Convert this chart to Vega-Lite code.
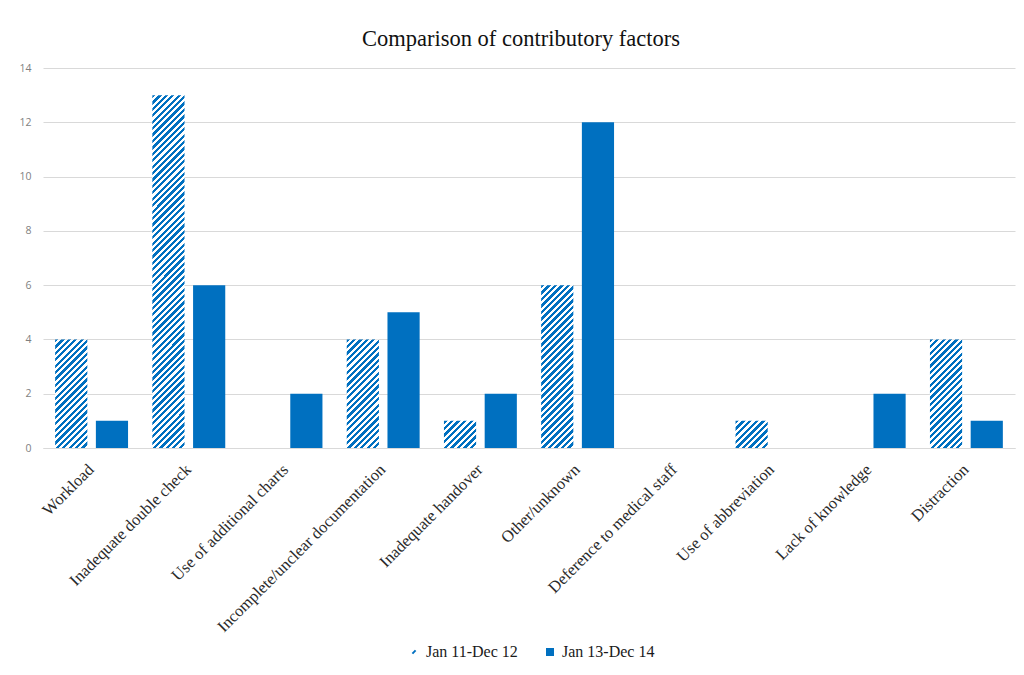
{
  "$schema": "https://vega.github.io/schema/vega-lite/v6.json",
  "autosize": "none",
  "width": 972,
  "height": 380,
  "padding": {"left": 43, "top": 68, "right": 9, "bottom": 227},
  "background": "#ffffff",
  "title": {
    "text": "Comparison of contributory factors",
    "font": "Liberation Serif",
    "fontSize": 22.5,
    "fontWeight": "normal",
    "color": "#111111",
    "anchor": "middle",
    "dx": -8,
    "offset": 13
  },
  "data": {
    "values": [
      {"factor": "Workload", "period": "Jan 11-Dec 12", "count": 4},
      {"factor": "Workload", "period": "Jan 13-Dec 14", "count": 1},
      {"factor": "Inadequate double check", "period": "Jan 11-Dec 12", "count": 13},
      {"factor": "Inadequate double check", "period": "Jan 13-Dec 14", "count": 6},
      {"factor": "Use of additional charts", "period": "Jan 11-Dec 12", "count": 0},
      {"factor": "Use of additional charts", "period": "Jan 13-Dec 14", "count": 2},
      {"factor": "Incomplete/unclear documentation", "period": "Jan 11-Dec 12", "count": 4},
      {"factor": "Incomplete/unclear documentation", "period": "Jan 13-Dec 14", "count": 5},
      {"factor": "Inadequate handover", "period": "Jan 11-Dec 12", "count": 1},
      {"factor": "Inadequate handover", "period": "Jan 13-Dec 14", "count": 2},
      {"factor": "Other/unknown", "period": "Jan 11-Dec 12", "count": 6},
      {"factor": "Other/unknown", "period": "Jan 13-Dec 14", "count": 12},
      {"factor": "Deference to medical staff", "period": "Jan 11-Dec 12", "count": 0},
      {"factor": "Deference to medical staff", "period": "Jan 13-Dec 14", "count": 0},
      {"factor": "Use of abbreviation", "period": "Jan 11-Dec 12", "count": 1},
      {"factor": "Use of abbreviation", "period": "Jan 13-Dec 14", "count": 0},
      {"factor": "Lack of knowledge", "period": "Jan 11-Dec 12", "count": 0},
      {"factor": "Lack of knowledge", "period": "Jan 13-Dec 14", "count": 2},
      {"factor": "Distraction", "period": "Jan 11-Dec 12", "count": 4},
      {"factor": "Distraction", "period": "Jan 13-Dec 14", "count": 1}
    ]
  },
  "mark": {"type": "bar", "strokeWidth": 0},
  "encoding": {
    "x": {
      "field": "factor",
      "type": "nominal",
      "sort": null,
      "scale": {"paddingInner": 0.25, "paddingOuter": 0.125},
      "axis": {
        "title": null,
        "labelAngle": -45,
        "labelFont": "Liberation Serif",
        "labelFontSize": 16.5,
        "labelColor": "#2a2a2a",
        "labelPadding": 13,
        "labelOffset": -6,
        "ticks": false,
        "domainColor": "#d9d9d9",
        "labelLimit": 400
      }
    },
    "xOffset": {
      "field": "period",
      "type": "nominal",
      "scale": {"paddingInner": 0.21, "paddingOuter": 0}
    },
    "y": {
      "field": "count",
      "type": "quantitative",
      "scale": {"domain": [0, 14], "nice": false},
      "axis": {
        "title": null,
        "values": [0, 2, 4, 6, 8, 10, 12, 14],
        "grid": true,
        "gridColor": "#d9d9d9",
        "domain": false,
        "ticks": false,
        "labelFont": "Open Sans",
        "labelFontSize": 10.5,
        "labelColor": "#7f7f7f",
        "labelPadding": 12
      }
    },
    "fill": {
      "field": "period",
      "type": "nominal",
      "scale": {"domain": ["Jan 11-Dec 12", "Jan 13-Dec 14"], "range": ["#0070C0", "#0070C0"]},
      "legend": {
        "title": null,
        "orient": "none",
        "legendX": 363,
        "legendY": 576,
        "direction": "horizontal",
        "labelFont": "Liberation Serif",
        "labelFontSize": 16,
        "labelColor": "#1a1a1a",
        "symbolSize": 64,
        "columnPadding": 24,
        "encode": {
          "symbols": {
            "update": {
              "shape": [
                {"test": "datum.value === 'Jan 11-Dec 12'", "value": "M-0.4,0.4L0.4,-0.4"},
                {"value": "square"}
              ],
              "stroke": [
                {"test": "datum.value === 'Jan 11-Dec 12'", "value": "#0070C0"},
                {"value": "transparent"}
              ],
              "strokeWidth": {"value": 2},
              "fill": [
                {"test": "datum.value === 'Jan 11-Dec 12'", "value": "transparent"},
                {"value": "#0070C0"}
              ]
            }
          }
        }
      },
      "condition": [
        {
          "test": "datum.period === 'Jan 11-Dec 12' && datum.count === 1",
          "value": {
            "gradient": "linear", "x1": 0, "y1": 0, "x2": 1.077, "y2": 0.908,
            "stops": [
              {"offset": 0, "color": "#0070C0"}, {"offset": 0.05556, "color": "#0070C0"},
              {"offset": 0.05556, "color": "#FFFFFF"}, {"offset": 0.11111, "color": "#FFFFFF"},
              {"offset": 0.11111, "color": "#0070C0"}, {"offset": 0.16667, "color": "#0070C0"},
              {"offset": 0.16667, "color": "#FFFFFF"}, {"offset": 0.22222, "color": "#FFFFFF"},
              {"offset": 0.22222, "color": "#0070C0"}, {"offset": 0.27778, "color": "#0070C0"},
              {"offset": 0.27778, "color": "#FFFFFF"}, {"offset": 0.33333, "color": "#FFFFFF"},
              {"offset": 0.33333, "color": "#0070C0"}, {"offset": 0.38889, "color": "#0070C0"},
              {"offset": 0.38889, "color": "#FFFFFF"}, {"offset": 0.44444, "color": "#FFFFFF"},
              {"offset": 0.44444, "color": "#0070C0"}, {"offset": 0.5, "color": "#0070C0"},
              {"offset": 0.5, "color": "#FFFFFF"}, {"offset": 0.55556, "color": "#FFFFFF"},
              {"offset": 0.55556, "color": "#0070C0"}, {"offset": 0.61111, "color": "#0070C0"},
              {"offset": 0.61111, "color": "#FFFFFF"}, {"offset": 0.66667, "color": "#FFFFFF"},
              {"offset": 0.66667, "color": "#0070C0"}, {"offset": 0.72222, "color": "#0070C0"},
              {"offset": 0.72222, "color": "#FFFFFF"}, {"offset": 0.77778, "color": "#FFFFFF"},
              {"offset": 0.77778, "color": "#0070C0"}, {"offset": 0.83333, "color": "#0070C0"},
              {"offset": 0.83333, "color": "#FFFFFF"}, {"offset": 0.88889, "color": "#FFFFFF"},
              {"offset": 0.88889, "color": "#0070C0"}, {"offset": 0.94444, "color": "#0070C0"},
              {"offset": 0.94444, "color": "#FFFFFF"}, {"offset": 1, "color": "#FFFFFF"}
            ]
          }
        },
        {
          "test": "datum.period === 'Jan 11-Dec 12' && datum.count === 4",
          "value": {
            "gradient": "linear", "x1": 0, "y1": 0, "x2": 0.3535, "y2": 1.1917,
            "stops": [
              {"offset": 0, "color": "#0070C0"}, {"offset": 0.02273, "color": "#0070C0"},
              {"offset": 0.02273, "color": "#FFFFFF"}, {"offset": 0.04545, "color": "#FFFFFF"},
              {"offset": 0.04545, "color": "#0070C0"}, {"offset": 0.06818, "color": "#0070C0"},
              {"offset": 0.06818, "color": "#FFFFFF"}, {"offset": 0.09091, "color": "#FFFFFF"},
              {"offset": 0.09091, "color": "#0070C0"}, {"offset": 0.11364, "color": "#0070C0"},
              {"offset": 0.11364, "color": "#FFFFFF"}, {"offset": 0.13636, "color": "#FFFFFF"},
              {"offset": 0.13636, "color": "#0070C0"}, {"offset": 0.15909, "color": "#0070C0"},
              {"offset": 0.15909, "color": "#FFFFFF"}, {"offset": 0.18182, "color": "#FFFFFF"},
              {"offset": 0.18182, "color": "#0070C0"}, {"offset": 0.20455, "color": "#0070C0"},
              {"offset": 0.20455, "color": "#FFFFFF"}, {"offset": 0.22727, "color": "#FFFFFF"},
              {"offset": 0.22727, "color": "#0070C0"}, {"offset": 0.25, "color": "#0070C0"},
              {"offset": 0.25, "color": "#FFFFFF"}, {"offset": 0.27273, "color": "#FFFFFF"},
              {"offset": 0.27273, "color": "#0070C0"}, {"offset": 0.29545, "color": "#0070C0"},
              {"offset": 0.29545, "color": "#FFFFFF"}, {"offset": 0.31818, "color": "#FFFFFF"},
              {"offset": 0.31818, "color": "#0070C0"}, {"offset": 0.34091, "color": "#0070C0"},
              {"offset": 0.34091, "color": "#FFFFFF"}, {"offset": 0.36364, "color": "#FFFFFF"},
              {"offset": 0.36364, "color": "#0070C0"}, {"offset": 0.38636, "color": "#0070C0"},
              {"offset": 0.38636, "color": "#FFFFFF"}, {"offset": 0.40909, "color": "#FFFFFF"},
              {"offset": 0.40909, "color": "#0070C0"}, {"offset": 0.43182, "color": "#0070C0"},
              {"offset": 0.43182, "color": "#FFFFFF"}, {"offset": 0.45455, "color": "#FFFFFF"},
              {"offset": 0.45455, "color": "#0070C0"}, {"offset": 0.47727, "color": "#0070C0"},
              {"offset": 0.47727, "color": "#FFFFFF"}, {"offset": 0.5, "color": "#FFFFFF"},
              {"offset": 0.5, "color": "#0070C0"}, {"offset": 0.52273, "color": "#0070C0"},
              {"offset": 0.52273, "color": "#FFFFFF"}, {"offset": 0.54545, "color": "#FFFFFF"},
              {"offset": 0.54545, "color": "#0070C0"}, {"offset": 0.56818, "color": "#0070C0"},
              {"offset": 0.56818, "color": "#FFFFFF"}, {"offset": 0.59091, "color": "#FFFFFF"},
              {"offset": 0.59091, "color": "#0070C0"}, {"offset": 0.61364, "color": "#0070C0"},
              {"offset": 0.61364, "color": "#FFFFFF"}, {"offset": 0.63636, "color": "#FFFFFF"},
              {"offset": 0.63636, "color": "#0070C0"}, {"offset": 0.65909, "color": "#0070C0"},
              {"offset": 0.65909, "color": "#FFFFFF"}, {"offset": 0.68182, "color": "#FFFFFF"},
              {"offset": 0.68182, "color": "#0070C0"}, {"offset": 0.70455, "color": "#0070C0"},
              {"offset": 0.70455, "color": "#FFFFFF"}, {"offset": 0.72727, "color": "#FFFFFF"},
              {"offset": 0.72727, "color": "#0070C0"}, {"offset": 0.75, "color": "#0070C0"},
              {"offset": 0.75, "color": "#FFFFFF"}, {"offset": 0.77273, "color": "#FFFFFF"},
              {"offset": 0.77273, "color": "#0070C0"}, {"offset": 0.79545, "color": "#0070C0"},
              {"offset": 0.79545, "color": "#FFFFFF"}, {"offset": 0.81818, "color": "#FFFFFF"},
              {"offset": 0.81818, "color": "#0070C0"}, {"offset": 0.84091, "color": "#0070C0"},
              {"offset": 0.84091, "color": "#FFFFFF"}, {"offset": 0.86364, "color": "#FFFFFF"},
              {"offset": 0.86364, "color": "#0070C0"}, {"offset": 0.88636, "color": "#0070C0"},
              {"offset": 0.88636, "color": "#FFFFFF"}, {"offset": 0.90909, "color": "#FFFFFF"},
              {"offset": 0.90909, "color": "#0070C0"}, {"offset": 0.93182, "color": "#0070C0"},
              {"offset": 0.93182, "color": "#FFFFFF"}, {"offset": 0.95455, "color": "#FFFFFF"},
              {"offset": 0.95455, "color": "#0070C0"}, {"offset": 0.97727, "color": "#0070C0"},
              {"offset": 0.97727, "color": "#FFFFFF"}, {"offset": 1, "color": "#FFFFFF"}
            ]
          }
        },
        {
          "test": "datum.period === 'Jan 11-Dec 12' && datum.count === 6",
          "value": {
            "gradient": "linear", "x1": 0, "y1": 0, "x2": 0.2279, "y2": 1.1526,
            "stops": [
              {"offset": 0, "color": "#0070C0"}, {"offset": 0.01667, "color": "#0070C0"},
              {"offset": 0.01667, "color": "#FFFFFF"}, {"offset": 0.03333, "color": "#FFFFFF"},
              {"offset": 0.03333, "color": "#0070C0"}, {"offset": 0.05, "color": "#0070C0"},
              {"offset": 0.05, "color": "#FFFFFF"}, {"offset": 0.06667, "color": "#FFFFFF"},
              {"offset": 0.06667, "color": "#0070C0"}, {"offset": 0.08333, "color": "#0070C0"},
              {"offset": 0.08333, "color": "#FFFFFF"}, {"offset": 0.1, "color": "#FFFFFF"},
              {"offset": 0.1, "color": "#0070C0"}, {"offset": 0.11667, "color": "#0070C0"},
              {"offset": 0.11667, "color": "#FFFFFF"}, {"offset": 0.13333, "color": "#FFFFFF"},
              {"offset": 0.13333, "color": "#0070C0"}, {"offset": 0.15, "color": "#0070C0"},
              {"offset": 0.15, "color": "#FFFFFF"}, {"offset": 0.16667, "color": "#FFFFFF"},
              {"offset": 0.16667, "color": "#0070C0"}, {"offset": 0.18333, "color": "#0070C0"},
              {"offset": 0.18333, "color": "#FFFFFF"}, {"offset": 0.2, "color": "#FFFFFF"},
              {"offset": 0.2, "color": "#0070C0"}, {"offset": 0.21667, "color": "#0070C0"},
              {"offset": 0.21667, "color": "#FFFFFF"}, {"offset": 0.23333, "color": "#FFFFFF"},
              {"offset": 0.23333, "color": "#0070C0"}, {"offset": 0.25, "color": "#0070C0"},
              {"offset": 0.25, "color": "#FFFFFF"}, {"offset": 0.26667, "color": "#FFFFFF"},
              {"offset": 0.26667, "color": "#0070C0"}, {"offset": 0.28333, "color": "#0070C0"},
              {"offset": 0.28333, "color": "#FFFFFF"}, {"offset": 0.3, "color": "#FFFFFF"},
              {"offset": 0.3, "color": "#0070C0"}, {"offset": 0.31667, "color": "#0070C0"},
              {"offset": 0.31667, "color": "#FFFFFF"}, {"offset": 0.33333, "color": "#FFFFFF"},
              {"offset": 0.33333, "color": "#0070C0"}, {"offset": 0.35, "color": "#0070C0"},
              {"offset": 0.35, "color": "#FFFFFF"}, {"offset": 0.36667, "color": "#FFFFFF"},
              {"offset": 0.36667, "color": "#0070C0"}, {"offset": 0.38333, "color": "#0070C0"},
              {"offset": 0.38333, "color": "#FFFFFF"}, {"offset": 0.4, "color": "#FFFFFF"},
              {"offset": 0.4, "color": "#0070C0"}, {"offset": 0.41667, "color": "#0070C0"},
              {"offset": 0.41667, "color": "#FFFFFF"}, {"offset": 0.43333, "color": "#FFFFFF"},
              {"offset": 0.43333, "color": "#0070C0"}, {"offset": 0.45, "color": "#0070C0"},
              {"offset": 0.45, "color": "#FFFFFF"}, {"offset": 0.46667, "color": "#FFFFFF"},
              {"offset": 0.46667, "color": "#0070C0"}, {"offset": 0.48333, "color": "#0070C0"},
              {"offset": 0.48333, "color": "#FFFFFF"}, {"offset": 0.5, "color": "#FFFFFF"},
              {"offset": 0.5, "color": "#0070C0"}, {"offset": 0.51667, "color": "#0070C0"},
              {"offset": 0.51667, "color": "#FFFFFF"}, {"offset": 0.53333, "color": "#FFFFFF"},
              {"offset": 0.53333, "color": "#0070C0"}, {"offset": 0.55, "color": "#0070C0"},
              {"offset": 0.55, "color": "#FFFFFF"}, {"offset": 0.56667, "color": "#FFFFFF"},
              {"offset": 0.56667, "color": "#0070C0"}, {"offset": 0.58333, "color": "#0070C0"},
              {"offset": 0.58333, "color": "#FFFFFF"}, {"offset": 0.6, "color": "#FFFFFF"},
              {"offset": 0.6, "color": "#0070C0"}, {"offset": 0.61667, "color": "#0070C0"},
              {"offset": 0.61667, "color": "#FFFFFF"}, {"offset": 0.63333, "color": "#FFFFFF"},
              {"offset": 0.63333, "color": "#0070C0"}, {"offset": 0.65, "color": "#0070C0"},
              {"offset": 0.65, "color": "#FFFFFF"}, {"offset": 0.66667, "color": "#FFFFFF"},
              {"offset": 0.66667, "color": "#0070C0"}, {"offset": 0.68333, "color": "#0070C0"},
              {"offset": 0.68333, "color": "#FFFFFF"}, {"offset": 0.7, "color": "#FFFFFF"},
              {"offset": 0.7, "color": "#0070C0"}, {"offset": 0.71667, "color": "#0070C0"},
              {"offset": 0.71667, "color": "#FFFFFF"}, {"offset": 0.73333, "color": "#FFFFFF"},
              {"offset": 0.73333, "color": "#0070C0"}, {"offset": 0.75, "color": "#0070C0"},
              {"offset": 0.75, "color": "#FFFFFF"}, {"offset": 0.76667, "color": "#FFFFFF"},
              {"offset": 0.76667, "color": "#0070C0"}, {"offset": 0.78333, "color": "#0070C0"},
              {"offset": 0.78333, "color": "#FFFFFF"}, {"offset": 0.8, "color": "#FFFFFF"},
              {"offset": 0.8, "color": "#0070C0"}, {"offset": 0.81667, "color": "#0070C0"},
              {"offset": 0.81667, "color": "#FFFFFF"}, {"offset": 0.83333, "color": "#FFFFFF"},
              {"offset": 0.83333, "color": "#0070C0"}, {"offset": 0.85, "color": "#0070C0"},
              {"offset": 0.85, "color": "#FFFFFF"}, {"offset": 0.86667, "color": "#FFFFFF"},
              {"offset": 0.86667, "color": "#0070C0"}, {"offset": 0.88333, "color": "#0070C0"},
              {"offset": 0.88333, "color": "#FFFFFF"}, {"offset": 0.9, "color": "#FFFFFF"},
              {"offset": 0.9, "color": "#0070C0"}, {"offset": 0.91667, "color": "#0070C0"},
              {"offset": 0.91667, "color": "#FFFFFF"}, {"offset": 0.93333, "color": "#FFFFFF"},
              {"offset": 0.93333, "color": "#0070C0"}, {"offset": 0.95, "color": "#0070C0"},
              {"offset": 0.95, "color": "#FFFFFF"}, {"offset": 0.96667, "color": "#FFFFFF"},
              {"offset": 0.96667, "color": "#0070C0"}, {"offset": 0.98333, "color": "#0070C0"},
              {"offset": 0.98333, "color": "#FFFFFF"}, {"offset": 1, "color": "#FFFFFF"}
            ]
          }
        },
        {
          "test": "datum.period === 'Jan 11-Dec 12' && datum.count === 13",
          "value": {
            "gradient": "linear", "x1": 0, "y1": 0, "x2": 0.0988, "y2": 1.0822,
            "stops": [
              {"offset": 0, "color": "#0070C0"}, {"offset": 0.00833, "color": "#0070C0"},
              {"offset": 0.00833, "color": "#FFFFFF"}, {"offset": 0.01667, "color": "#FFFFFF"},
              {"offset": 0.01667, "color": "#0070C0"}, {"offset": 0.025, "color": "#0070C0"},
              {"offset": 0.025, "color": "#FFFFFF"}, {"offset": 0.03333, "color": "#FFFFFF"},
              {"offset": 0.03333, "color": "#0070C0"}, {"offset": 0.04167, "color": "#0070C0"},
              {"offset": 0.04167, "color": "#FFFFFF"}, {"offset": 0.05, "color": "#FFFFFF"},
              {"offset": 0.05, "color": "#0070C0"}, {"offset": 0.05833, "color": "#0070C0"},
              {"offset": 0.05833, "color": "#FFFFFF"}, {"offset": 0.06667, "color": "#FFFFFF"},
              {"offset": 0.06667, "color": "#0070C0"}, {"offset": 0.075, "color": "#0070C0"},
              {"offset": 0.075, "color": "#FFFFFF"}, {"offset": 0.08333, "color": "#FFFFFF"},
              {"offset": 0.08333, "color": "#0070C0"}, {"offset": 0.09167, "color": "#0070C0"},
              {"offset": 0.09167, "color": "#FFFFFF"}, {"offset": 0.1, "color": "#FFFFFF"},
              {"offset": 0.1, "color": "#0070C0"}, {"offset": 0.10833, "color": "#0070C0"},
              {"offset": 0.10833, "color": "#FFFFFF"}, {"offset": 0.11667, "color": "#FFFFFF"},
              {"offset": 0.11667, "color": "#0070C0"}, {"offset": 0.125, "color": "#0070C0"},
              {"offset": 0.125, "color": "#FFFFFF"}, {"offset": 0.13333, "color": "#FFFFFF"},
              {"offset": 0.13333, "color": "#0070C0"}, {"offset": 0.14167, "color": "#0070C0"},
              {"offset": 0.14167, "color": "#FFFFFF"}, {"offset": 0.15, "color": "#FFFFFF"},
              {"offset": 0.15, "color": "#0070C0"}, {"offset": 0.15833, "color": "#0070C0"},
              {"offset": 0.15833, "color": "#FFFFFF"}, {"offset": 0.16667, "color": "#FFFFFF"},
              {"offset": 0.16667, "color": "#0070C0"}, {"offset": 0.175, "color": "#0070C0"},
              {"offset": 0.175, "color": "#FFFFFF"}, {"offset": 0.18333, "color": "#FFFFFF"},
              {"offset": 0.18333, "color": "#0070C0"}, {"offset": 0.19167, "color": "#0070C0"},
              {"offset": 0.19167, "color": "#FFFFFF"}, {"offset": 0.2, "color": "#FFFFFF"},
              {"offset": 0.2, "color": "#0070C0"}, {"offset": 0.20833, "color": "#0070C0"},
              {"offset": 0.20833, "color": "#FFFFFF"}, {"offset": 0.21667, "color": "#FFFFFF"},
              {"offset": 0.21667, "color": "#0070C0"}, {"offset": 0.225, "color": "#0070C0"},
              {"offset": 0.225, "color": "#FFFFFF"}, {"offset": 0.23333, "color": "#FFFFFF"},
              {"offset": 0.23333, "color": "#0070C0"}, {"offset": 0.24167, "color": "#0070C0"},
              {"offset": 0.24167, "color": "#FFFFFF"}, {"offset": 0.25, "color": "#FFFFFF"},
              {"offset": 0.25, "color": "#0070C0"}, {"offset": 0.25833, "color": "#0070C0"},
              {"offset": 0.25833, "color": "#FFFFFF"}, {"offset": 0.26667, "color": "#FFFFFF"},
              {"offset": 0.26667, "color": "#0070C0"}, {"offset": 0.275, "color": "#0070C0"},
              {"offset": 0.275, "color": "#FFFFFF"}, {"offset": 0.28333, "color": "#FFFFFF"},
              {"offset": 0.28333, "color": "#0070C0"}, {"offset": 0.29167, "color": "#0070C0"},
              {"offset": 0.29167, "color": "#FFFFFF"}, {"offset": 0.3, "color": "#FFFFFF"},
              {"offset": 0.3, "color": "#0070C0"}, {"offset": 0.30833, "color": "#0070C0"},
              {"offset": 0.30833, "color": "#FFFFFF"}, {"offset": 0.31667, "color": "#FFFFFF"},
              {"offset": 0.31667, "color": "#0070C0"}, {"offset": 0.325, "color": "#0070C0"},
              {"offset": 0.325, "color": "#FFFFFF"}, {"offset": 0.33333, "color": "#FFFFFF"},
              {"offset": 0.33333, "color": "#0070C0"}, {"offset": 0.34167, "color": "#0070C0"},
              {"offset": 0.34167, "color": "#FFFFFF"}, {"offset": 0.35, "color": "#FFFFFF"},
              {"offset": 0.35, "color": "#0070C0"}, {"offset": 0.35833, "color": "#0070C0"},
              {"offset": 0.35833, "color": "#FFFFFF"}, {"offset": 0.36667, "color": "#FFFFFF"},
              {"offset": 0.36667, "color": "#0070C0"}, {"offset": 0.375, "color": "#0070C0"},
              {"offset": 0.375, "color": "#FFFFFF"}, {"offset": 0.38333, "color": "#FFFFFF"},
              {"offset": 0.38333, "color": "#0070C0"}, {"offset": 0.39167, "color": "#0070C0"},
              {"offset": 0.39167, "color": "#FFFFFF"}, {"offset": 0.4, "color": "#FFFFFF"},
              {"offset": 0.4, "color": "#0070C0"}, {"offset": 0.40833, "color": "#0070C0"},
              {"offset": 0.40833, "color": "#FFFFFF"}, {"offset": 0.41667, "color": "#FFFFFF"},
              {"offset": 0.41667, "color": "#0070C0"}, {"offset": 0.425, "color": "#0070C0"},
              {"offset": 0.425, "color": "#FFFFFF"}, {"offset": 0.43333, "color": "#FFFFFF"},
              {"offset": 0.43333, "color": "#0070C0"}, {"offset": 0.44167, "color": "#0070C0"},
              {"offset": 0.44167, "color": "#FFFFFF"}, {"offset": 0.45, "color": "#FFFFFF"},
              {"offset": 0.45, "color": "#0070C0"}, {"offset": 0.45833, "color": "#0070C0"},
              {"offset": 0.45833, "color": "#FFFFFF"}, {"offset": 0.46667, "color": "#FFFFFF"},
              {"offset": 0.46667, "color": "#0070C0"}, {"offset": 0.475, "color": "#0070C0"},
              {"offset": 0.475, "color": "#FFFFFF"}, {"offset": 0.48333, "color": "#FFFFFF"},
              {"offset": 0.48333, "color": "#0070C0"}, {"offset": 0.49167, "color": "#0070C0"},
              {"offset": 0.49167, "color": "#FFFFFF"}, {"offset": 0.5, "color": "#FFFFFF"},
              {"offset": 0.5, "color": "#0070C0"}, {"offset": 0.50833, "color": "#0070C0"},
              {"offset": 0.50833, "color": "#FFFFFF"}, {"offset": 0.51667, "color": "#FFFFFF"},
              {"offset": 0.51667, "color": "#0070C0"}, {"offset": 0.525, "color": "#0070C0"},
              {"offset": 0.525, "color": "#FFFFFF"}, {"offset": 0.53333, "color": "#FFFFFF"},
              {"offset": 0.53333, "color": "#0070C0"}, {"offset": 0.54167, "color": "#0070C0"},
              {"offset": 0.54167, "color": "#FFFFFF"}, {"offset": 0.55, "color": "#FFFFFF"},
              {"offset": 0.55, "color": "#0070C0"}, {"offset": 0.55833, "color": "#0070C0"},
              {"offset": 0.55833, "color": "#FFFFFF"}, {"offset": 0.56667, "color": "#FFFFFF"},
              {"offset": 0.56667, "color": "#0070C0"}, {"offset": 0.575, "color": "#0070C0"},
              {"offset": 0.575, "color": "#FFFFFF"}, {"offset": 0.58333, "color": "#FFFFFF"},
              {"offset": 0.58333, "color": "#0070C0"}, {"offset": 0.59167, "color": "#0070C0"},
              {"offset": 0.59167, "color": "#FFFFFF"}, {"offset": 0.6, "color": "#FFFFFF"},
              {"offset": 0.6, "color": "#0070C0"}, {"offset": 0.60833, "color": "#0070C0"},
              {"offset": 0.60833, "color": "#FFFFFF"}, {"offset": 0.61667, "color": "#FFFFFF"},
              {"offset": 0.61667, "color": "#0070C0"}, {"offset": 0.625, "color": "#0070C0"},
              {"offset": 0.625, "color": "#FFFFFF"}, {"offset": 0.63333, "color": "#FFFFFF"},
              {"offset": 0.63333, "color": "#0070C0"}, {"offset": 0.64167, "color": "#0070C0"},
              {"offset": 0.64167, "color": "#FFFFFF"}, {"offset": 0.65, "color": "#FFFFFF"},
              {"offset": 0.65, "color": "#0070C0"}, {"offset": 0.65833, "color": "#0070C0"},
              {"offset": 0.65833, "color": "#FFFFFF"}, {"offset": 0.66667, "color": "#FFFFFF"},
              {"offset": 0.66667, "color": "#0070C0"}, {"offset": 0.675, "color": "#0070C0"},
              {"offset": 0.675, "color": "#FFFFFF"}, {"offset": 0.68333, "color": "#FFFFFF"},
              {"offset": 0.68333, "color": "#0070C0"}, {"offset": 0.69167, "color": "#0070C0"},
              {"offset": 0.69167, "color": "#FFFFFF"}, {"offset": 0.7, "color": "#FFFFFF"},
              {"offset": 0.7, "color": "#0070C0"}, {"offset": 0.70833, "color": "#0070C0"},
              {"offset": 0.70833, "color": "#FFFFFF"}, {"offset": 0.71667, "color": "#FFFFFF"},
              {"offset": 0.71667, "color": "#0070C0"}, {"offset": 0.725, "color": "#0070C0"},
              {"offset": 0.725, "color": "#FFFFFF"}, {"offset": 0.73333, "color": "#FFFFFF"},
              {"offset": 0.73333, "color": "#0070C0"}, {"offset": 0.74167, "color": "#0070C0"},
              {"offset": 0.74167, "color": "#FFFFFF"}, {"offset": 0.75, "color": "#FFFFFF"},
              {"offset": 0.75, "color": "#0070C0"}, {"offset": 0.75833, "color": "#0070C0"},
              {"offset": 0.75833, "color": "#FFFFFF"}, {"offset": 0.76667, "color": "#FFFFFF"},
              {"offset": 0.76667, "color": "#0070C0"}, {"offset": 0.775, "color": "#0070C0"},
              {"offset": 0.775, "color": "#FFFFFF"}, {"offset": 0.78333, "color": "#FFFFFF"},
              {"offset": 0.78333, "color": "#0070C0"}, {"offset": 0.79167, "color": "#0070C0"},
              {"offset": 0.79167, "color": "#FFFFFF"}, {"offset": 0.8, "color": "#FFFFFF"},
              {"offset": 0.8, "color": "#0070C0"}, {"offset": 0.80833, "color": "#0070C0"},
              {"offset": 0.80833, "color": "#FFFFFF"}, {"offset": 0.81667, "color": "#FFFFFF"},
              {"offset": 0.81667, "color": "#0070C0"}, {"offset": 0.825, "color": "#0070C0"},
              {"offset": 0.825, "color": "#FFFFFF"}, {"offset": 0.83333, "color": "#FFFFFF"},
              {"offset": 0.83333, "color": "#0070C0"}, {"offset": 0.84167, "color": "#0070C0"},
              {"offset": 0.84167, "color": "#FFFFFF"}, {"offset": 0.85, "color": "#FFFFFF"},
              {"offset": 0.85, "color": "#0070C0"}, {"offset": 0.85833, "color": "#0070C0"},
              {"offset": 0.85833, "color": "#FFFFFF"}, {"offset": 0.86667, "color": "#FFFFFF"},
              {"offset": 0.86667, "color": "#0070C0"}, {"offset": 0.875, "color": "#0070C0"},
              {"offset": 0.875, "color": "#FFFFFF"}, {"offset": 0.88333, "color": "#FFFFFF"},
              {"offset": 0.88333, "color": "#0070C0"}, {"offset": 0.89167, "color": "#0070C0"},
              {"offset": 0.89167, "color": "#FFFFFF"}, {"offset": 0.9, "color": "#FFFFFF"},
              {"offset": 0.9, "color": "#0070C0"}, {"offset": 0.90833, "color": "#0070C0"},
              {"offset": 0.90833, "color": "#FFFFFF"}, {"offset": 0.91667, "color": "#FFFFFF"},
              {"offset": 0.91667, "color": "#0070C0"}, {"offset": 0.925, "color": "#0070C0"},
              {"offset": 0.925, "color": "#FFFFFF"}, {"offset": 0.93333, "color": "#FFFFFF"},
              {"offset": 0.93333, "color": "#0070C0"}, {"offset": 0.94167, "color": "#0070C0"},
              {"offset": 0.94167, "color": "#FFFFFF"}, {"offset": 0.95, "color": "#FFFFFF"},
              {"offset": 0.95, "color": "#0070C0"}, {"offset": 0.95833, "color": "#0070C0"},
              {"offset": 0.95833, "color": "#FFFFFF"}, {"offset": 0.96667, "color": "#FFFFFF"},
              {"offset": 0.96667, "color": "#0070C0"}, {"offset": 0.975, "color": "#0070C0"},
              {"offset": 0.975, "color": "#FFFFFF"}, {"offset": 0.98333, "color": "#FFFFFF"},
              {"offset": 0.98333, "color": "#0070C0"}, {"offset": 0.99167, "color": "#0070C0"},
              {"offset": 0.99167, "color": "#FFFFFF"}, {"offset": 1, "color": "#FFFFFF"}
            ]
          }
        }
      ]
    }
  },
  "config": {
    "view": {"stroke": null}
  }
}
